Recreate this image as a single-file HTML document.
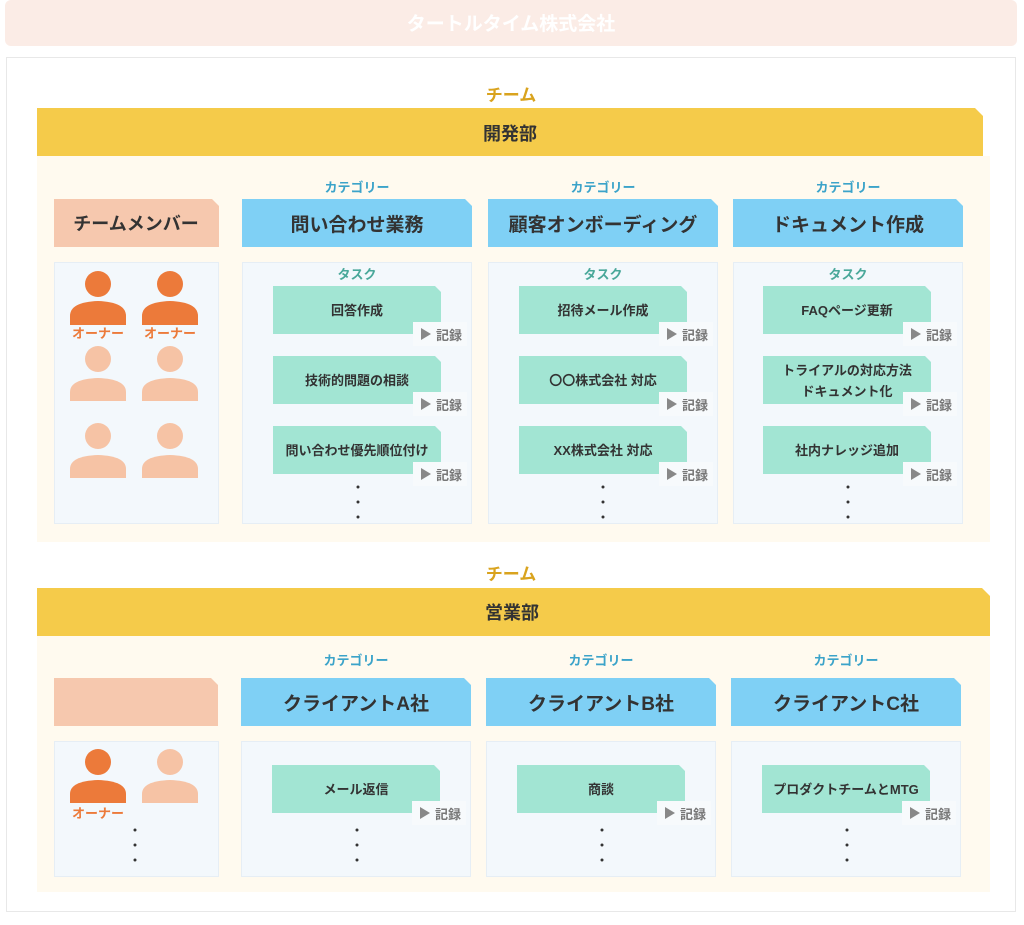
<!DOCTYPE html>
<html><head><meta charset="utf-8"><style>
body{margin:0;background:#fff;}
svg text{font-family:"Liberation Sans","Noto Sans CJK JP",sans-serif;font-weight:bold;}
</style></head><body>
<svg width="1024" height="920" viewBox="0 0 1024 920" xmlns="http://www.w3.org/2000/svg">
<rect width="1024" height="920" fill="#fff"/>
<rect x="5" y="0" width="1012" height="46" rx="6" fill="#fbece6"/>
<text x="511" y="30" font-size="19" fill="#fff" text-anchor="middle">タートルタイム株式会社</text>
<rect x="6.5" y="57.5" width="1009" height="854" fill="#fff" stroke="#e8e8e8"/>

<!-- Team 1 -->
<text x="511" y="101" font-size="17" fill="#d9a31e" text-anchor="middle">チーム</text>
<rect x="37" y="156" width="953" height="386" fill="#fffaef"/>
<path d="M37 108 H975 L983 116 V156 H37 Z" fill="#f5cb4a"/>
<text x="510" y="140" font-size="18" fill="#333" text-anchor="middle">開発部</text>

<path d="M54 199 H212 L219 206 V247 H54 Z" fill="#f6c8ae"/>
<text x="136" y="230" font-size="18" fill="#333" text-anchor="middle">チームメンバー</text>
<rect x="54.5" y="262.5" width="164" height="261" fill="#f3f8fc" stroke="#e6eef5"/>

<g fill="#ec7a3a">
<circle cx="98" cy="284" r="13"/><path d="M70 325 V316 Q70 302 98 301 Q126 302 126 316 V325 Z"/>
<circle cx="170" cy="284" r="13"/><path d="M142 325 V316 Q142 302 170 301 Q198 302 198 316 V325 Z"/>
</g>
<text x="98" y="338" font-size="13" fill="#ec7a3a" text-anchor="middle">オーナー</text>
<text x="170" y="338" font-size="13" fill="#ec7a3a" text-anchor="middle">オーナー</text>
<g fill="#f6c3a5">
<circle cx="98" cy="359" r="13"/><path d="M70 401 V392 Q70 379 98 378 Q126 379 126 392 V401 Z"/>
<circle cx="170" cy="359" r="13"/><path d="M142 401 V392 Q142 379 170 378 Q198 379 198 392 V401 Z"/>
<circle cx="98" cy="436" r="13"/><path d="M70 478 V469 Q70 456 98 455 Q126 456 126 469 V478 Z"/>
<circle cx="170" cy="436" r="13"/><path d="M142 478 V469 Q142 456 170 455 Q198 456 198 469 V478 Z"/>
</g>

<!-- categories team1 -->
<g id="c1">
<text x="357" y="192" font-size="13" fill="#3ba3c9" text-anchor="middle">カテゴリー</text>
<path d="M242 199 H465 L472 206 V247 H242 Z" fill="#7fd0f5"/>
<text x="357" y="231" font-size="19" fill="#333" text-anchor="middle">問い合わせ業務</text>
<rect x="242.5" y="262.5" width="229" height="261" fill="#f3f8fc" stroke="#e6eef5"/>
<text x="357" y="279" font-size="13" fill="#4aa89a" text-anchor="middle">タスク</text>
</g>
<g transform="translate(246,0)">
<text x="357" y="192" font-size="13" fill="#3ba3c9" text-anchor="middle">カテゴリー</text>
<path d="M242 199 H465 L472 206 V247 H242 Z" fill="#7fd0f5"/>
<text x="357" y="231" font-size="19" fill="#333" text-anchor="middle">顧客オンボーディング</text>
<rect x="242.5" y="262.5" width="229" height="261" fill="#f3f8fc" stroke="#e6eef5"/>
<text x="357" y="279" font-size="13" fill="#4aa89a" text-anchor="middle">タスク</text>
</g>
<g transform="translate(491,0)">
<text x="357" y="192" font-size="13" fill="#3ba3c9" text-anchor="middle">カテゴリー</text>
<path d="M242 199 H465 L472 206 V247 H242 Z" fill="#7fd0f5"/>
<text x="357" y="231" font-size="19" fill="#333" text-anchor="middle">ドキュメント作成</text>
<rect x="242.5" y="262.5" width="229" height="261" fill="#f3f8fc" stroke="#e6eef5"/>
<text x="357" y="279" font-size="13" fill="#4aa89a" text-anchor="middle">タスク</text>
</g>

<!-- tasks: helper via groups -->
<defs>
<g id="task">
<path d="M0 0 H162 L168 6 V48 H0 Z" fill="#a2e5d3"/>
<rect x="140" y="36" width="54" height="24" fill="#f7fafc"/>
<path d="M148 42 L148 54 L158 48 Z" fill="#888"/>
<text x="176" y="54" font-size="13" fill="#777" font-weight="normal" text-anchor="middle">記録</text>
</g>
</defs>
<g font-size="13" fill="#333" text-anchor="middle">
<use href="#task" x="273" y="286"/><text x="357" y="315">回答作成</text>
<use href="#task" x="273" y="356"/><text x="357" y="385">技術的問題の相談</text>
<use href="#task" x="273" y="426"/><text x="357" y="455">問い合わせ優先順位付け</text>
<use href="#task" x="519" y="286"/><text x="603" y="315">招待メール作成</text>
<use href="#task" x="519" y="356"/><text x="603" y="385">〇〇株式会社 対応</text>
<use href="#task" x="519" y="426"/><text x="603" y="455">XX株式会社 対応</text>
<use href="#task" x="763" y="286"/><text x="847" y="315">FAQページ更新</text>
<use href="#task" x="763" y="356"/><text x="847" y="375">トライアルの対応方法</text><text x="847" y="396">ドキュメント化</text>
<use href="#task" x="763" y="426"/><text x="847" y="455">社内ナレッジ追加</text>
</g>
<g fill="#333">
<circle cx="358" cy="487" r="1.5"/><circle cx="358" cy="502" r="1.5"/><circle cx="358" cy="517" r="1.5"/>
<circle cx="603" cy="487" r="1.5"/><circle cx="603" cy="502" r="1.5"/><circle cx="603" cy="517" r="1.5"/>
<circle cx="848" cy="487" r="1.5"/><circle cx="848" cy="502" r="1.5"/><circle cx="848" cy="517" r="1.5"/>
</g>

<!-- Team 2 -->
<text x="511" y="580" font-size="17" fill="#d9a31e" text-anchor="middle">チーム</text>
<rect x="37" y="636" width="953" height="256" fill="#fffaef"/>
<path d="M37 588 H982 L990 596 V636 H37 Z" fill="#f5cb4a"/>
<text x="512" y="619" font-size="18" fill="#333" text-anchor="middle">営業部</text>

<path d="M54 678 H211 L218 685 V726 H54 Z" fill="#f6c8ae"/>
<rect x="54.5" y="741.5" width="164" height="135" fill="#f3f8fc" stroke="#e6eef5"/>
<circle cx="98" cy="762" r="13" fill="#ec7a3a"/><path d="M70 803 V794 Q70 781 98 780 Q126 781 126 794 V803 Z" fill="#ec7a3a"/>
<circle cx="170" cy="762" r="13" fill="#f6c3a5"/><path d="M142 803 V794 Q142 781 170 780 Q198 781 198 794 V803 Z" fill="#f6c3a5"/>
<text x="98" y="818" font-size="13" fill="#ec7a3a" text-anchor="middle">オーナー</text>

<g>
<text x="356" y="665" font-size="13" fill="#3ba3c9" text-anchor="middle">カテゴリー</text>
<path d="M241 678 H464 L471 685 V726 H241 Z" fill="#7fd0f5"/>
<text x="356" y="710" font-size="19" fill="#333" text-anchor="middle">クライアントA社</text>
<rect x="241.5" y="741.5" width="229" height="135" fill="#f3f8fc" stroke="#e6eef5"/>
</g>
<g transform="translate(245,0)">
<text x="356" y="665" font-size="13" fill="#3ba3c9" text-anchor="middle">カテゴリー</text>
<path d="M241 678 H464 L471 685 V726 H241 Z" fill="#7fd0f5"/>
<text x="356" y="710" font-size="19" fill="#333" text-anchor="middle">クライアントB社</text>
<rect x="241.5" y="741.5" width="229" height="135" fill="#f3f8fc" stroke="#e6eef5"/>
</g>
<g transform="translate(490,0)">
<text x="356" y="665" font-size="13" fill="#3ba3c9" text-anchor="middle">カテゴリー</text>
<path d="M241 678 H464 L471 685 V726 H241 Z" fill="#7fd0f5"/>
<text x="356" y="710" font-size="19" fill="#333" text-anchor="middle">クライアントC社</text>
<rect x="241.5" y="741.5" width="229" height="135" fill="#f3f8fc" stroke="#e6eef5"/>
</g>
<g font-size="13" fill="#333" text-anchor="middle">
<use href="#task" x="272" y="765"/><text x="356" y="794">メール返信</text>
<use href="#task" x="517" y="765"/><text x="601" y="794">商談</text>
<use href="#task" x="762" y="765"/><text x="846" y="794">プロダクトチームとMTG</text>
</g>
<g fill="#333">
<circle cx="135" cy="830" r="1.5"/><circle cx="135" cy="845" r="1.5"/><circle cx="135" cy="860" r="1.5"/>
<circle cx="357" cy="830" r="1.5"/><circle cx="357" cy="845" r="1.5"/><circle cx="357" cy="860" r="1.5"/>
<circle cx="602" cy="830" r="1.5"/><circle cx="602" cy="845" r="1.5"/><circle cx="602" cy="860" r="1.5"/>
<circle cx="847" cy="830" r="1.5"/><circle cx="847" cy="845" r="1.5"/><circle cx="847" cy="860" r="1.5"/>
</g>
</svg>
</body></html>
